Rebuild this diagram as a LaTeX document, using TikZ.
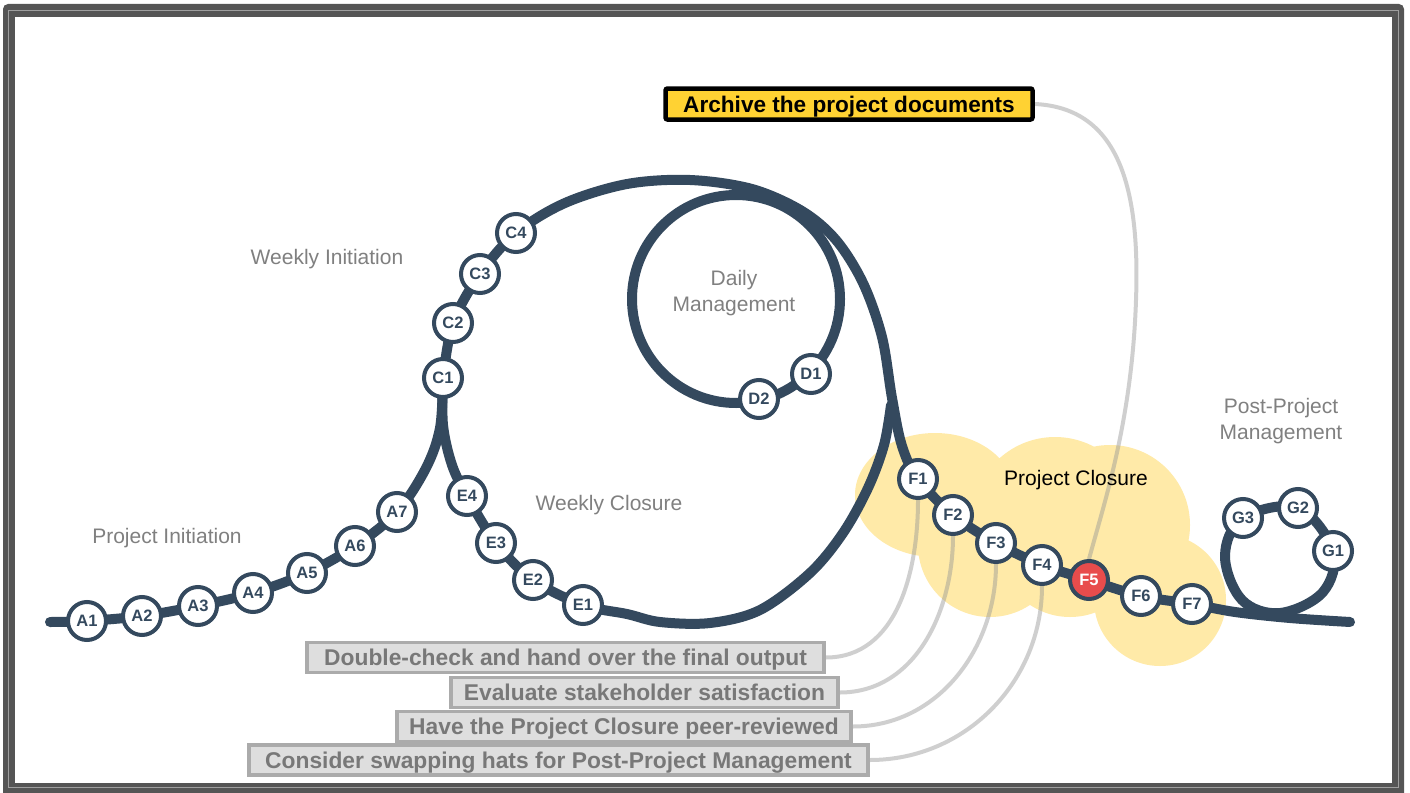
\documentclass[tikz,border=0pt]{standalone}
\usepackage{fontspec}
\setmainfont{Liberation Sans}
\usetikzlibrary{positioning}

\definecolor{track}{HTML}{34495E}
\definecolor{cloud}{HTML}{FFEAA8}
\definecolor{alarm}{HTML}{E84C4C}
\definecolor{archivefill}{HTML}{FFD233}
\definecolor{taskfill}{HTML}{DEDEDE}
\definecolor{taskline}{HTML}{ABABAB}
\definecolor{tasktext}{HTML}{787878}
\definecolor{labelgray}{HTML}{808080}
\definecolor{framegray}{HTML}{555555}
\definecolor{leadergray}{HTML}{969696}

\pgfdeclarelayer{bg}
\pgfdeclarelayer{rails}
\pgfsetlayers{bg,rails,main}

\tikzset{
  station/.style={circle,draw=track,line width=4pt,fill=white,minimum size=38pt,
    inner sep=0pt,text=track,font=\fontsize{16.5}{16.5}\selectfont\bfseries},
  phase/.style={text=labelgray,font=\fontsize{21}{26}\selectfont,align=center},
  task/.style={draw=taskline,fill=taskfill,line width=3.5pt,text=tasktext,inner sep=0pt,
    text depth=0pt,minimum height=30pt,font=\fontsize{22.8}{22.8}\selectfont\bfseries},
  rail/.style={draw=track,line width=10pt,line cap=round,line join=round},
  leader/.style={draw=leadergray,line width=4pt,opacity=.45},
}

\begin{document}
\begin{tikzpicture}[x=1pt,y=-1pt]
\useasboundingbox (0,0) rectangle (1410,792);

% frame and cloud
\begin{pgfonlayer}{bg}
\fill[framegray,rounded corners=5pt] (3,4) rectangle (1404,800);
\draw[gray!75,line width=1.2pt] (8.5,10.5) rectangle (1398.5,787.5);
\fill[white] (15,17) rectangle (1392,783);
\fill[cloud] (935,495) ellipse[x radius=80,y radius=62]
  (990,545) circle[radius=72]
  (1055,520) circle[radius=83]
  (1070,545) circle[radius=72]
  (1110,525) circle[radius=80]
  (1160,600) circle[radius=66];
\end{pgfonlayer}

% stations
\node[station] (A1) at (87,621) {A1};
\node[station] (A2) at (142,616) {A2};
\node[station] (A3) at (198,606) {A3};
\node[station] (A4) at (253,593) {A4};
\node[station] (A5) at (307,573) {A5};
\node[station] (A6) at (355,546) {A6};
\node[station] (A7) at (397,512) {A7};
\node[station] (C1) at (443,378) {C1};
\node[station] (C2) at (453,323) {C2};
\node[station] (C3) at (480,274) {C3};
\node[station] (C4) at (516,233) {C4};
\node[station] (D1) at (811,374) {D1};
\node[station] (D2) at (759,399) {D2};
\node[station] (E4) at (467,496) {E4};
\node[station] (E3) at (496,543) {E3};
\node[station] (E2) at (533,580) {E2};
\node[station] (E1) at (583,605) {E1};
\node[station] (F1) at (918,479) {F1};
\node[station] (F2) at (953,515) {F2};
\node[station] (F3) at (996,543) {F3};
\node[station] (F4) at (1042,565) {F4};
\node[station,fill=alarm,text=white] (F5) at (1089,580) {F5};
\node[station] (F6) at (1141,596) {F6};
\node[station] (F7) at (1192,604) {F7};
\node[station] (G1) at (1333,551) {G1};
\node[station] (G2) at (1298,508) {G2};
\node[station] (G3) at (1243,518) {G3};
\coordinate (start) at (50,622);
\coordinate (finish) at (1350,622);
\coordinate (hub) at (736,299);

% phase labels
\node[phase] (winit) at (327,259) {Weekly Initiation};
\node[phase] (daily) at (734,293) {Daily\\Management};
\node[phase] (wclose) at (609,505) {Weekly Closure};
\node[phase] (pinit) at (167,538) {Project Initiation};
\node[phase,text=black] (pclose) at (1076,480) {Project Closure};
\node[phase] (postpm) at (1281,421) {Post-Project\\Management};

% tasks
\node[draw=black,fill=archivefill,line width=4.5pt,rounded corners=2pt,inner sep=0pt,
  text depth=0pt,minimum width=367pt,minimum height=31pt,
  font=\fontsize{22.6}{22.6}\selectfont\bfseries]
  (archive) at (849,104) {Archive the project documents};
\node[task,minimum width=517pt] (handover) at (565.5,657.5) {Double-check and hand over the final output};
\node[task,minimum width=387pt] (satisfy) at (644.5,692.5) {Evaluate stakeholder satisfaction};
\node[task,minimum width=454pt] (review) at (624,726.5) {Have the Project Closure peer-reviewed};
\node[task,minimum width=619pt] (hats) at (558.5,760) {Consider swapping hats for Post-Project Management};

% the track
\begin{pgfonlayer}{rails}
\draw[rail] plot[smooth,tension=.55] coordinates {(start) (A1.center) (A2.center) (A3.center)
  (A4.center) (A5.center) (A6.center) (A7.center) (426,468) (440,428) (C1.center)};
\draw[rail] plot[smooth,tension=.55] coordinates {(C1.center) (C2.center) (C3.center) (C4.center)
  (565,203) (627,184) (690,180) (752,189) (802,211) (836,240) (863,283) (882,337) (892,398)
  (902,446) (F1.center) (F2.center) (F3.center) (F4.center) (F5.center) (F6.center)
  (F7.center) (1235,612) (1290,618) (finish)};
\draw[rail] plot[smooth,tension=.55] coordinates {(C1.center) (443,425) (452,465) (E4.center)
  (E3.center) (E2.center) (E1.center) (627,614) (660,622) (710,623) (760,610) (810,573)
  (843,533) (868,488) (884,445) (891,405)};
\draw[rail] (hub) circle[radius=104];
\draw[rail] plot[smooth cycle,tension=.6] coordinates {(1225,556) (G3.center) (G2.center)
  (G1.center) (1323,592) (1280,613) (1242,600)};
\end{pgfonlayer}

% leaders
\begin{pgfonlayer}{bg}
\draw[leader] (F1.south) to[out=-90,in=0] (handover.east);
\draw[leader] (F2.south) to[out=-90,in=0] (satisfy.east);
\draw[leader] (F3.south) to[out=-90,in=0] (review.east);
\draw[leader] (F4.south) to[out=-90,in=0] (hats.east);
\draw[leader] (archive.east) .. controls (1120,108) and (1140,190) .. (1136,300)
  .. controls (1132,420) and (1105,500) .. (F5.north);
\end{pgfonlayer}
\end{tikzpicture}
\end{document}
